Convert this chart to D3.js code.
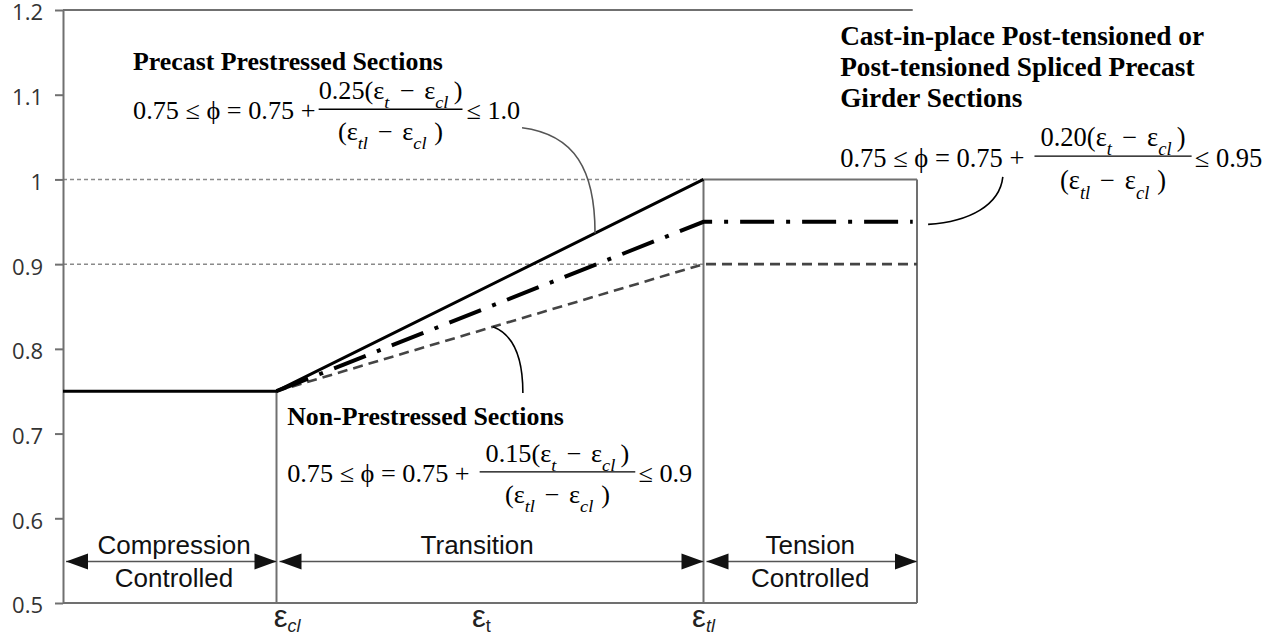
<!DOCTYPE html>
<html>
<head>
<meta charset="utf-8">
<script src="https://cdn.jsdelivr.net/npm/d3@7"></script>
<style>
  html, body { margin: 0; padding: 0; background: #fff; }
  svg { display: block; }
</style>
</head>
<body>
<script>
// phi axis
const yTicks = [0.5, 0.6, 0.7, 0.8, 0.9, 1, 1.1, 1.2];
const yTickLabels = ["0.5", "0.6", "0.7", "0.8", "0.9", "1", "1.1", "1.2"];
const gridValues = [0.9, 1.0];

// strain axis: eps_cl = 0, eps_tl = 1
const xLabels = [
  { sub: "cl", x: 0.025, italic: true },
  { sub: "t", x: 0.48, italic: false },
  { sub: "tl", x: 1.0, italic: true }
];

// series as [strain, phi]
const precastPts = [[-0.5, 0.75], [0, 0.75], [1, 1.0]];
const castPts = [[0, 0.75], [1, 0.95], [1.49, 0.95]];
const nonPts = [[0, 0.75], [1, 0.9], [1.5, 0.9]];

// controlled zones
const zones = [
  { lines: ["Compression", "Controlled"], x0: -0.5, x1: 0, lx: -0.24 },
  { lines: ["Transition"], x0: 0, x1: 1, lx: 0.47 },
  { lines: ["Tension", "Controlled"], x0: 1, x1: 1.5, lx: 1.25 }
];
const arrowPhi = 0.549;

// annotations (text + leader curve, leader given as bezier points)
const notes = [
  {
    title: ["Precast Prestressed Sections"], coef: "0.25", limit: "1.0",
    x: -0.336, titlePhi: 1.129, eqPhi: 1.071, fs: 25, tfs: 24.6, sx: 1.05,
    gap: 0.12, pad: 0.0, tail: 0.15,
    lead: [[0.575, 1.061], [0.699, 1.053], [0.746, 1.011], [0.746, 0.9365]], leadColor: "#555"
  },
  {
    title: ["Non-Prestressed Sections"], coef: "0.15", limit: "0.9",
    x: 0.025, titlePhi: 0.71, eqPhi: 0.643, fs: 25, tfs: 24.6, sx: 1.05,
    gap: 0.38, pad: 0.45, tail: 0.12,
    lead: [[0.507, 0.826], [0.559, 0.816], [0.577, 0.787], [0.577, 0.748]], leadColor: "#000"
  },
  {
    title: ["Cast-in-place Post-tensioned or", "Post-tensioned Spliced Precast", "Girder Sections"],
    coef: "0.20", limit: "0.95",
    x: 1.32, titlePhi: 1.159, eqPhi: 1.015, fs: 26.5, tfs: 27.3, sx: 1.0,
    gap: 0.38, pad: 0.45, tail: 0.12,
    lead: [[1.701, 1.003], [1.694, 0.97], [1.624, 0.95], [1.526, 0.947]], leadColor: "#000"
  }
];

const width = 1276;
const height = 638;
const margin = { top: 10, right: 359, bottom: 35, left: 63 };
const frameColor = "#707070";
const serif = "'Liberation Serif', 'Times New Roman', serif";
const sans = "'Liberation Sans', Arial, sans-serif";

const x = d3.scaleLinear().domain([-0.5, 1.5]).range([margin.left, width - margin.right]);
const y = d3.scaleLinear().domain([0.5, 1.2]).range([height - margin.bottom, margin.top]);

const svg = d3.select("body").append("svg")
  .attr("width", width)
  .attr("height", height)
  .attr("viewBox", [0, 0, width, height]);

// dashed reference lines at 0.9 and 1.0
svg.append("g").selectAll("line").data(gridValues).join("line")
  .attr("x1", x(-0.5)).attr("x2", x(1))
  .attr("y1", d => y(d)).attr("y2", d => y(d))
  .attr("stroke", "#8a8a8a").attr("stroke-width", 1.5)
  .attr("stroke-dasharray", "4,3");

// frame pieces
const frame = [
  [[-0.5, 1.2], [1.49, 1.2]],
  [[-0.5, 0.5], [1.5, 0.5]],
  [[0, 0.5], [0, 0.75]],
  [[1, 0.5], [1, 1.0]],
  [[1, 1.0], [1.5, 1.0]],
  [[1.5, 1.0], [1.5, 0.5]]
];
const line = d3.line().x(d => x(d[0])).y(d => y(d[1]));
svg.append("g").selectAll("path").data(frame).join("path")
  .attr("d", d => line(d))
  .attr("fill", "none").attr("stroke", frameColor).attr("stroke-width", 2);

// y axis
svg.append("g")
  .attr("transform", `translate(${x(-0.5)},0)`)
  .call(d3.axisLeft(y).tickValues(yTicks).tickFormat((d, i) => yTickLabels[i])
    .tickSize(8).tickSizeOuter(0).tickPadding(12))
  .call(g => {
    g.select(".domain").attr("stroke", frameColor).attr("stroke-width", 2);
    g.selectAll(".tick line").attr("stroke", frameColor).attr("stroke-width", 2);
    g.selectAll(".tick text")
      .attr("dy", "0.45em")
      .attr("font-family", "'Open Sans', sans-serif")
      .attr("font-size", 22).attr("fill", "#333");
  });

// strain labels
xLabels.forEach(d => {
  const t = svg.append("text")
    .attr("x", x(d.x)).attr("y", y(0.5) + 24)
    .attr("text-anchor", "middle")
    .attr("font-family", sans).attr("font-size", 31).attr("fill", "#222");
  t.append("tspan").text("ε");
  t.append("tspan").attr("dy", 5).attr("font-size", 18)
    .attr("font-style", d.italic ? "italic" : "normal").text(d.sub);
});

// phi curves
svg.append("path").attr("d", line(nonPts))
  .attr("fill", "none").attr("stroke", "#444").attr("stroke-width", 2.6)
  .attr("stroke-dasharray", "10,6");
svg.append("path").attr("d", line(castPts))
  .attr("fill", "none").attr("stroke", "#000").attr("stroke-width", 4)
  .attr("stroke-dasharray", "34,12,4,12");
svg.append("path").attr("d", line(precastPts))
  .attr("fill", "none").attr("stroke", "#000").attr("stroke-width", 3)
  .attr("stroke-linejoin", "round");

// zone arrows and labels
const ah = 22, aw = 8;
zones.forEach(z => {
  const ya = y(arrowPhi);
  const xa = x(z.x0) + 3, xb = x(z.x1);
  svg.append("line").attr("x1", xa).attr("x2", xb).attr("y1", ya).attr("y2", ya)
    .attr("stroke", "#555").attr("stroke-width", 1.5);
  svg.append("path")
    .attr("d", `M${xa},${ya}L${xa + ah},${ya - aw}L${xa + ah},${ya + aw}Z M${xb},${ya}L${xb - ah},${ya - aw}L${xb - ah},${ya + aw}Z`)
    .attr("fill", "#111");
  z.lines.forEach((s, i) => {
    svg.append("text")
      .attr("x", x(z.lx)).attr("y", ya - 7 + i * 33)
      .attr("text-anchor", "middle")
      .attr("font-family", sans).attr("font-size", 26).attr("fill", "#111")
      .text(s);
  });
});

// rich text with subscripts: parts are [text, isSub, extra dx in em]
function rich(g, parts, fs) {
  const t = g.append("text").attr("font-family", serif).attr("font-size", fs).attr("fill", "#000");
  let shift = 0;
  let extra = 0;
  parts.forEach(p => {
    const target = p[1] ? 0.36 * fs : 0;
    const ts = t.append("tspan").attr("dy", target - shift).text(p[0]);
    if (p[2]) { ts.attr("dx", p[2] * fs); extra += p[2] * fs; }
    if (p[1]) ts.attr("font-size", 0.7 * fs).attr("font-style", "italic");
    shift = target;
  });
  t.property("extra", extra);
  return t;
}

function drawEq(g, n) {
  const fs = n.fs;
  const lead = g.append("text").attr("x", 0).attr("y", 0)
    .attr("font-family", serif).attr("font-size", fs).attr("fill", "#000")
    .text("0.75 ≤ ϕ = 0.75 +");
  const lw = lead.node().getComputedTextLength();
  const fx = lw + n.gap * fs;
  const num = rich(g, [[n.coef + "(ε"], ["t", 1], [" −", 0, 0.14], [" ε", 0, 0.12], ["cl", 1], [")", 0, 0.2]], fs);
  const den = rich(g, [["(ε"], ["tl", 1], [" −", 0, 0.12], [" ε", 0, 0.12], ["cl", 1], [")", 0, 0.3]], fs);
  const nw = num.node().getComputedTextLength() + num.property("extra");
  const dw = den.node().getComputedTextLength() + den.property("extra");
  const bw = Math.max(nw, dw) + n.pad * fs;
  num.attr("x", fx + (bw - nw) / 2).attr("y", -0.8 * fs);
  den.attr("x", fx + (bw - dw) / 2).attr("y", 0.84 * fs);
  g.append("line").attr("x1", fx).attr("x2", fx + bw)
    .attr("y1", -0.4 * fs).attr("y2", -0.4 * fs)
    .attr("stroke", "#000").attr("stroke-width", 1.4);
  g.append("text").attr("x", fx + bw + n.tail * fs).attr("y", 0)
    .attr("font-family", serif).attr("font-size", fs).attr("fill", "#000")
    .text("≤ " + n.limit);
}

notes.forEach(n => {
  // leader
  const p = n.lead.map(d => [x(d[0]), y(d[1])]);
  svg.append("path")
    .attr("d", `M${p[0]}C${p[1]} ${p[2]} ${p[3]}`)
    .attr("fill", "none").attr("stroke", n.leadColor).attr("stroke-width", 1.6);

  const g = svg.append("g").attr("transform", `translate(${x(n.x)},0) scale(${n.sx},1)`);
  n.title.forEach((s, i) => {
    g.append("text").attr("x", 0).attr("y", y(n.titlePhi) + i * 31)
      .attr("font-family", serif).attr("font-weight", "bold")
      .attr("font-size", n.tfs).attr("fill", "#000")
      .text(s);
  });
  const eq = g.append("g").attr("transform", `translate(0,${y(n.eqPhi)})`);
  drawEq(eq, n);
});
</script>
</body>
</html>
